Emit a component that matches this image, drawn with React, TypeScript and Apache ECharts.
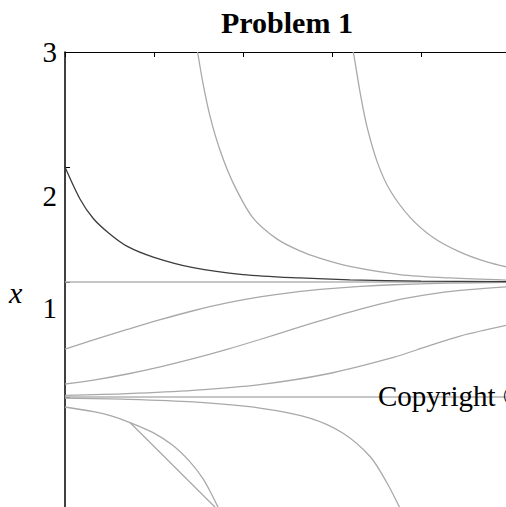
import React, { useEffect, useRef } from 'react';
import * as echarts from 'echarts';

const SERIF = "'Liberation Serif', 'Times New Roman', Times, serif";

// Axis ticks / labels
const xTicks = [0, 1, 2, 3, 4, 5];
const yLabelValues = [3, 2, 1];
const yLabelTexts = ['3', '2', '1'];
const titleText = 'Problem 1';
const yName = 'x';
const watermark = 'Copyright ©';

// Equilibrium lines
const eqT = [0, 5];
const eqUpperY = [1, 1];
const eqLowerY = [0, 0];

// Dark solution curve starting at x = 2
const aT = [0, 0.17, 0.32, 0.5, 0.7, 1, 1.44, 2, 2.64, 3.2, 4, 5];
const aY = [2.0, 1.72, 1.55, 1.42, 1.31, 1.215, 1.125, 1.065, 1.035, 1.019, 1.008, 1.003];

// Steep curves coming from the top
const bT = [1.49, 1.55, 1.63, 1.74, 1.89, 2.11, 2.38, 2.64, 2.87, 3.2, 3.76, 4.33, 5];
const bY = [3.0, 2.73, 2.44, 2.15, 1.86, 1.56, 1.375, 1.27, 1.205, 1.135, 1.065, 1.035, 1.016];

const cT = [3.24, 3.27, 3.32, 3.39, 3.51, 3.65, 3.88, 4.14, 4.44, 4.74, 5];
const cY = [3.0, 2.86, 2.63, 2.36, 2.04, 1.8, 1.56, 1.385, 1.26, 1.175, 1.125];

// Rising curves between the equilibria
const eT = [0, 0.32, 0.7, 1.07, 1.44, 1.82, 2.19, 2.56, 2.94, 3.32, 3.69, 4.3, 5];
const eY = [0.417, 0.497, 0.587, 0.672, 0.75, 0.818, 0.87, 0.91, 0.94, 0.962, 0.976, 0.99, 0.997];

const fT = [0, 0.32, 0.7, 1.07, 1.44, 1.82, 2.19, 2.56, 2.94, 3.32, 3.69, 4.07, 4.44, 5];
const fY = [0.113, 0.147, 0.2, 0.262, 0.333, 0.414, 0.5, 0.59, 0.68, 0.764, 0.836, 0.89, 0.927, 0.96];

const gT = [0, 0.7, 1.44, 2.19, 2.94, 3.69, 4.07, 4.44, 5];
const gY = [0.015, 0.03, 0.058, 0.108, 0.2, 0.345, 0.44, 0.53, 0.63];

// Falling curves below the lower equilibrium
const hT = [0, 0.7, 1.44, 2.19, 2.75, 3.12, 3.43, 3.62, 3.76, 3.8];
const hY = [-0.01, -0.02, -0.043, -0.096, -0.183, -0.313, -0.52, -0.75, -0.96, -1.02];

const iT = [0, 0.32, 0.51, 0.73, 0.99, 1.21, 1.4, 1.55, 1.65, 1.72, 1.75];
const iY = [-0.087, -0.127, -0.163, -0.222, -0.31, -0.42, -0.56, -0.71, -0.85, -0.96, -1.02];

// Straight chord artifact
const jT = [0.73, 1.74];
const jY = [-0.222, -1.0];

const zip = (ts: number[], ys: number[]) => ts.map((t, k) => [t, ys[k]]);

const GRAY = '#a9a9a9';
const EQ = '#b3b3b3';
const DARK = '#3c3c3c';

function curve(name: string, ts: number[], ys: number[], color: string, smooth: boolean | number = 0.3) {
  return {
    name,
    type: 'line',
    data: zip(ts, ys),
    showSymbol: false,
    symbol: 'none',
    smooth,
    clip: true,
    lineStyle: { color, width: 1.3 },
    emphasis: { disabled: true },
    silent: true,
  };
}

export default function App() {
  const ref = useRef<HTMLDivElement>(null);
  useEffect(() => {
    const chart = echarts.init(ref.current!, null, { renderer: 'svg' });
    chart.setOption({
      animation: false,
      backgroundColor: '#ffffff',
      title: {
        text: titleText,
        left: 221,
        top: 7.5,
        padding: 0,
        textStyle: { fontFamily: SERIF, fontSize: 30, fontWeight: 'bold', color: '#000' },
      },
      grid: { left: 65, top: 52, right: -4, bottom: -5, outerBoundsMode: 'none', containLabel: false },
      xAxis: {
        type: 'value',
        position: 'top',
        min: xTicks[0],
        max: xTicks[xTicks.length - 1],
        interval: 1,
        axisLine: { show: true, onZero: false, lineStyle: { color: '#000', width: 1.2 } },
        axisTick: { show: true, inside: true, length: 5, lineStyle: { color: '#000', width: 1 } },
        axisLabel: { show: false },
        splitLine: { show: false },
      },
      yAxis: {
        type: 'value',
        min: -1,
        max: 3,
        interval: 1,
        axisLine: { show: true, onZero: false, lineStyle: { color: '#000', width: 1.5 } },
        axisTick: { show: true, inside: true, length: 5, lineStyle: { color: '#000', width: 1 } },
        splitLine: { show: false },
        axisLabel: {
          show: true,
          customValues: yLabelValues,
          margin: 8,
          fontFamily: SERIF,
          fontSize: 29,
          color: '#000',
          formatter: (v: number) => {
            const k = yLabelValues.indexOf(v);
            return k < 0 ? '' : `{p${k}|${yLabelTexts[k]}}`;
          },
          rich: {
            p0: { fontFamily: SERIF, fontSize: 29, color: '#000' },
            p1: { fontFamily: SERIF, fontSize: 29, color: '#000', padding: [57, 0, 0, 0] },
            p2: { fontFamily: SERIF, fontSize: 29, color: '#000', padding: [51, 0, 0, 0] },
          },
        },
      },
      graphic: [
        {
          type: 'text',
          left: 9,
          top: 277,
          style: {
            text: yName,
            fontFamily: SERIF,
            fontSize: 30,
            fontStyle: 'italic',
            fill: '#000',
          },
        },
        {
          type: 'text',
          x: 378,
          y: 395.5,
          z: 100,
          style: {
            text: watermark,
            fontFamily: SERIF,
            fontSize: 29,
            fill: '#000',
            align: 'left',
            verticalAlign: 'middle',
          },
        },
      ],
      series: [
        curve('eqUpper', eqT, eqUpperY, EQ, false),
        curve('eqLower', eqT, eqLowerY, EQ, false),
        curve('b', bT, bY, GRAY),
        curve('c', cT, cY, GRAY),
        curve('e', eT, eY, GRAY),
        curve('f', fT, fY, GRAY),
        curve('g', gT, gY, GRAY),
        curve('h', hT, hY, GRAY),
        curve('i', iT, iY, GRAY),
        curve('j', jT, jY, GRAY, false),
        curve('a', aT, aY, DARK),
      ],
    });
    return () => chart.dispose();
  }, []);
  return <div ref={ref} style={{ position: 'fixed', left: 0, top: 0, width: 506, height: 507 }} />;
}
